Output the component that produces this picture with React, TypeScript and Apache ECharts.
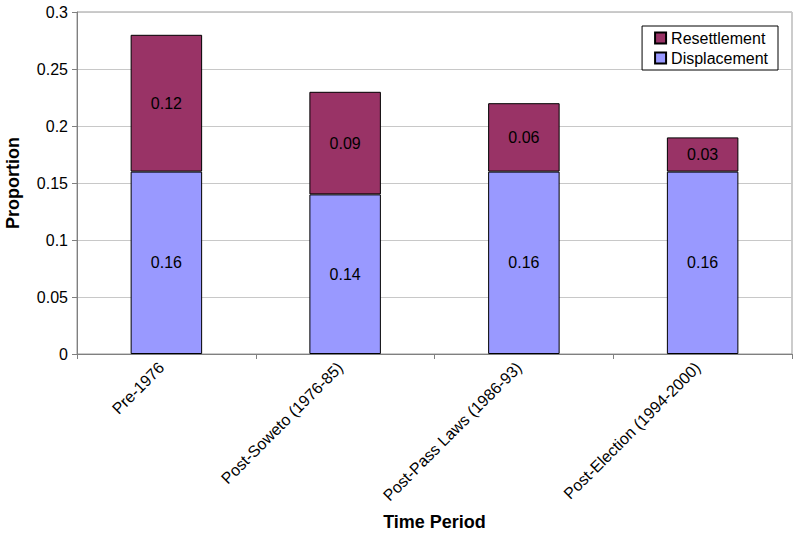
import React, { useEffect, useRef } from "react";
import * as echarts from "echarts";

const categories = ["Pre-1976", "Post-Soweto (1976-85)", "Post-Pass Laws (1986-93)", "Post-Election (1994-2000)"];
const displacement = [0.16, 0.14, 0.16, 0.16];
const resettlement = [0.12, 0.09, 0.06, 0.03];
const yTicks = [0, 0.05, 0.1, 0.15, 0.2, 0.25, 0.3];

const FONT = "Liberation Sans, Arial, sans-serif";

export default function App() {
  const ref = useRef<HTMLDivElement>(null);
  useEffect(() => {
    if (!ref.current) return;
    const chart = echarts.init(ref.current, null, { renderer: "svg" });
    const labelCfg = {
      show: true,
      position: "inside",
      color: "#000",
      fontSize: 16,
      fontFamily: FONT,
      formatter: (p: any) => String(p.value),
    };
    chart.setOption({
      animation: false,
      textStyle: { fontFamily: FONT },
      grid: {
        left: 77,
        right: 8,
        top: 12,
        bottom: 186,
        show: true,
        borderColor: "#999",
        borderWidth: 1,
        containLabel: false,
        outerBoundsMode: "none",
      },
      legend: {
        orient: "vertical",
        right: 22,
        top: 26,
        data: ["Resettlement", "Displacement"],
        itemWidth: 11,
        itemHeight: 11,
        itemGap: 4,
        padding: [4, 10, 4, 12],
        borderColor: "#000",
        borderWidth: 1,
        backgroundColor: "#fff",
        icon: "rect",
        textStyle: { fontSize: 16, color: "#000", fontFamily: FONT },
      },
      xAxis: {
        type: "category",
        data: categories,
        name: "Time Period",
        nameLocation: "middle",
        nameGap: 159,
        nameTextStyle: { fontSize: 18, fontWeight: "bold", color: "#000", fontFamily: FONT },
        axisLine: { lineStyle: { color: "#808080" } },
        axisTick: { show: true, length: 5, lineStyle: { color: "#808080" } },
        axisLabel: {
          rotate: 45,
          fontSize: 16,
          color: "#000",
          margin: 6,
          padding: [0, 7, 0, 0],
          fontFamily: FONT,
          interval: 0,
        },
      },
      yAxis: {
        type: "value",
        min: 0,
        max: 0.3,
        interval: 0.05,
        name: "Proportion",
        nameLocation: "middle",
        nameGap: 55,
        nameTextStyle: { fontSize: 18, fontWeight: "bold", color: "#000", fontFamily: FONT },
        axisLine: { show: true, lineStyle: { color: "#808080" } },
        axisTick: { show: true, length: 5, lineStyle: { color: "#808080" } },
        axisLabel: {
          fontSize: 16,
          color: "#000",
          margin: 9,
          fontFamily: FONT,
          formatter: (v: number) => {
            const t = yTicks.find((x) => Math.abs(x - v) < 1e-9);
            return String(t !== undefined ? t : v);
          },
        },
        splitLine: { lineStyle: { color: "#c8c8c8" } },
      },
      series: [
        {
          name: "Displacement",
          type: "bar",
          stack: "total",
          data: displacement,
          barWidth: "40%",
          itemStyle: { color: "#9999FF", borderColor: "#000", borderWidth: 1 },
          label: labelCfg,
        },
        {
          name: "Resettlement",
          type: "bar",
          stack: "total",
          data: resettlement,
          barWidth: "40%",
          itemStyle: { color: "#993366", borderColor: "#000", borderWidth: 1 },
          label: labelCfg,
        },
      ],
    });
    return () => chart.dispose();
  }, []);
  return <div ref={ref} style={{ width: 800, height: 540, position: "absolute", left: 0, top: 0, background: "#fff" }} />;
}
